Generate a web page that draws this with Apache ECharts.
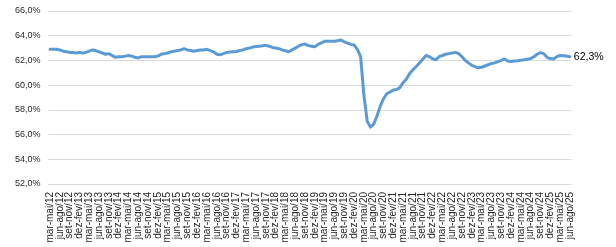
<!DOCTYPE html>
<html>
<head>
<meta charset="utf-8">
<script src="https://cdn.jsdelivr.net/npm/echarts@6/dist/echarts.min.js"></script>
<style>html,body{margin:0;padding:0;background:#fff;}#c{width:616px;height:247px;}</style>
</head>
<body>
<div id="c"></div>
<script>
const categories = [
"mar-mai/12","abr-jun/12","mai-jul/12","jun-ago/12","jul-set/12","ago-out/12","set-nov/12","out-dez/12",
"nov-jan/13","dez-fev/13","jan-mar/13","fev-abr/13","mar-mai/13","abr-jun/13","mai-jul/13","jun-ago/13","jul-set/13","ago-out/13","set-nov/13","out-dez/13",
"nov-jan/14","dez-fev/14","jan-mar/14","fev-abr/14","mar-mai/14","abr-jun/14","mai-jul/14","jun-ago/14","jul-set/14","ago-out/14","set-nov/14","out-dez/14",
"nov-jan/15","dez-fev/15","jan-mar/15","fev-abr/15","mar-mai/15","abr-jun/15","mai-jul/15","jun-ago/15","jul-set/15","ago-out/15","set-nov/15","out-dez/15",
"nov-jan/16","dez-fev/16","jan-mar/16","fev-abr/16","mar-mai/16","abr-jun/16","mai-jul/16","jun-ago/16","jul-set/16","ago-out/16","set-nov/16","out-dez/16",
"nov-jan/17","dez-fev/17","jan-mar/17","fev-abr/17","mar-mai/17","abr-jun/17","mai-jul/17","jun-ago/17","jul-set/17","ago-out/17","set-nov/17","out-dez/17",
"nov-jan/18","dez-fev/18","jan-mar/18","fev-abr/18","mar-mai/18","abr-jun/18","mai-jul/18","jun-ago/18","jul-set/18","ago-out/18","set-nov/18","out-dez/18",
"nov-jan/19","dez-fev/19","jan-mar/19","fev-abr/19","mar-mai/19","abr-jun/19","mai-jul/19","jun-ago/19","jul-set/19","ago-out/19","set-nov/19","out-dez/19",
"nov-jan/20","dez-fev/20","jan-mar/20","fev-abr/20","mar-mai/20","abr-jun/20","mai-jul/20","jun-ago/20","jul-set/20","ago-out/20","set-nov/20","out-dez/20",
"nov-jan/21","dez-fev/21","jan-mar/21","fev-abr/21","mar-mai/21","abr-jun/21","mai-jul/21","jun-ago/21","jul-set/21","ago-out/21","set-nov/21","out-dez/21",
"nov-jan/22","dez-fev/22","jan-mar/22","fev-abr/22","mar-mai/22","abr-jun/22","mai-jul/22","jun-ago/22","jul-set/22","ago-out/22","set-nov/22","out-dez/22",
"nov-jan/23","dez-fev/23","jan-mar/23","fev-abr/23","mar-mai/23","abr-jun/23","mai-jul/23","jun-ago/23","jul-set/23","ago-out/23","set-nov/23","out-dez/23",
"nov-jan/24","dez-fev/24","jan-mar/24","fev-abr/24","mar-mai/24","abr-jun/24","mai-jul/24","jun-ago/24","jul-set/24","ago-out/24","set-nov/24","out-dez/24",
"nov-jan/25","dez-fev/25","jan-mar/25","fev-abr/25","mar-mai/25","abr-jun/25","mai-jul/25","jun-ago/25"
];
const rate = [
62.9,62.9,62.9,62.85,62.75,62.7,62.65,62.65,62.6,62.65,
62.6,62.65,62.75,62.85,62.8,62.7,62.6,62.5,62.55,62.4,
62.25,62.3,62.3,62.35,62.4,62.35,62.25,62.2,62.3,62.3,
62.3,62.3,62.3,62.35,62.5,62.55,62.6,62.7,62.75,62.8,
62.85,62.95,62.85,62.8,62.75,62.8,62.85,62.85,62.9,62.8,
62.7,62.5,62.45,62.55,62.65,62.68,62.7,62.72,62.8,62.85,
62.95,63.0,63.08,63.12,63.15,63.18,63.22,63.15,63.05,63.0,
62.95,62.85,62.78,62.7,62.85,63.0,63.15,63.28,63.33,63.2,
63.15,63.1,63.3,63.42,63.55,63.55,63.55,63.55,63.6,63.65,
63.5,63.4,63.3,63.25,62.9,62.3,59.2,57.1,56.6,56.85,
57.5,58.3,58.9,59.3,59.45,59.6,59.65,59.8,60.2,60.5,
60.95,61.25,61.5,61.8,62.1,62.4,62.3,62.15,62.05,62.3,
62.4,62.5,62.55,62.6,62.65,62.55,62.3,62.0,61.8,61.6,
61.5,61.4,61.45,61.55,61.65,61.75,61.8,61.9,62.0,62.12,
61.95,61.92,61.95,61.98,62.02,62.05,62.1,62.15,62.3,62.5,
62.63,62.55,62.25,62.15,62.12,62.3,62.4,62.38,62.35,62.3
];
const yMin = 52, yMax = 66, yStep = 2;
const lastLabel = "62,3%";

const chart = echarts.init(document.getElementById('c'), null, {renderer:'canvas'});
chart.setOption({
  animation: false,
  grid: {left: 48.4, right: 44.5, top: 11, bottom: 63},
  xAxis: {
    type: 'category',
    data: categories,
    boundaryGap: true,
    axisLine: {show: false},
    axisTick: {show: false},
    axisLabel: {interval: 2, rotate: 90, margin: 8, fontSize: 10, color: '#262626', fontFamily: 'Liberation Sans'}
  },
  yAxis: {
    type: 'value',
    min: yMin, max: yMax, interval: yStep,
    axisLine: {show: false},
    axisTick: {show: false},
    splitLine: {lineStyle: {color: '#d9d9d9', width: 1}},
    axisLabel: {fontSize: 9, color: '#262626', fontFamily: 'Liberation Sans', margin: 8,
      formatter: v => v.toFixed(1).replace('.', ',') + '%'}
  },
  series: [{
    type: 'line',
    data: rate,
    symbol: 'none',
    smooth: false,
    lineStyle: {color: '#5b9bd5', width: 3, cap: 'round', join: 'round'},
    endLabel: {show: true, formatter: () => lastLabel, fontSize: 10.5, color: '#000', fontFamily: 'Liberation Sans', distance: 4}
  }]
});
</script>
</body>
</html>
